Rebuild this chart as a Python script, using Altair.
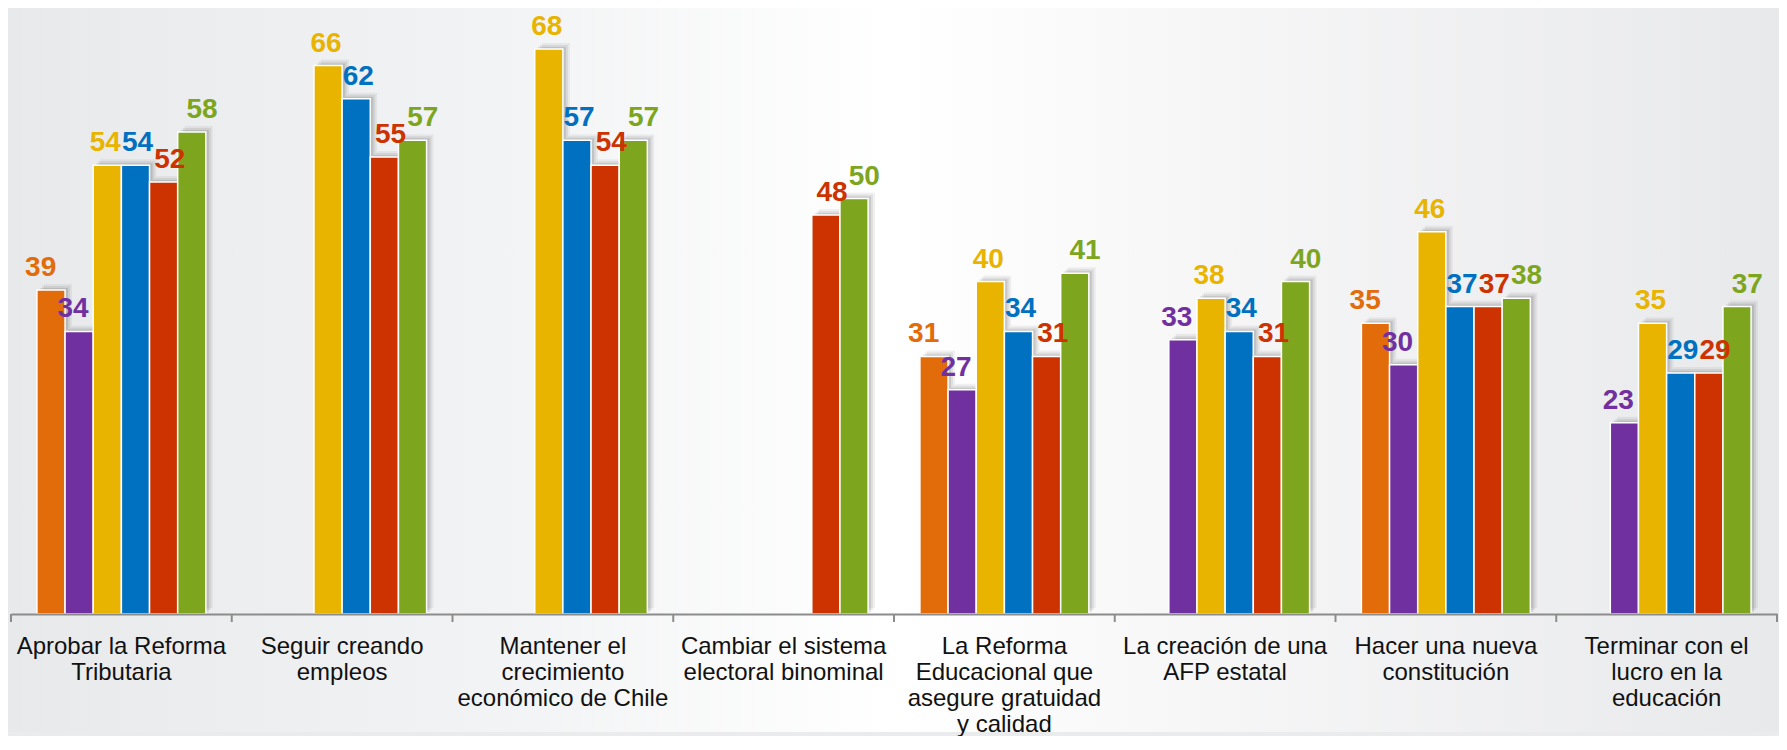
import altair as alt
import pandas as pd

categories = [
    "Aprobar la Reforma|Tributaria",
    "Seguir creando|empleos",
    "Mantener el|crecimiento|económico de Chile",
    "Cambiar el sistema|electoral binominal",
    "La Reforma|Educacional que|asegure gratuidad|y calidad",
    "La creación de una|AFP estatal",
    "Hacer una nueva|constitución",
    "Terminar con el|lucro en la|educación",
]
series = ["Serie 1", "Serie 2", "Serie 3", "Serie 4", "Serie 5", "Serie 6"]
colors = ["#E36C0A", "#7030A0", "#E8B400", "#0070C0", "#CC3300", "#7DA61E"]

s1 = [39, None, None, None, 31, None, 35, None]
s2 = [34, None, None, None, 27, 33, 30, 23]
s3 = [54, 66, 68, None, 40, 38, 46, 35]
s4 = [54, 62, 57, None, 34, 34, 37, 29]
s5 = [52, 55, 54, 48, 31, 31, 37, 29]
s6 = [58, 57, 57, 50, 41, 40, 38, 37]

rows = []
for name, vals in zip(series, [s1, s2, s3, s4, s5, s6]):
    for c, v in zip(categories, vals):
        if v is not None:
            rows.append({"cat": c, "serie": name, "valor": v})
df = pd.DataFrame(rows)
cat_df = pd.DataFrame({"cat": categories, "idx": list(range(len(categories)))})

W, H = 1766, 604
STEP = W / len(categories)
PX_PER_UNIT = 8.31

xscale = alt.Scale(domain=categories, paddingInner=0, paddingOuter=0)
xenc = alt.X("cat:N", scale=xscale, sort=categories,
             axis=alt.Axis(title=None, ticks=False, labelAngle=0,
                           labelExpr="split(datum.label, '|')",
                           labelFont="Liberation Sans", labelFontSize=24,
                           labelColor="#111111", labelLineHeight=26,
                           labelPadding=20, domainColor="#8C8C8C",
                           domainWidth=2, zindex=1, labelLimit=0,
                           labelOverlap=False, labelBound=False,
                           labelFlush=False))
xoff = alt.XOffset("serie:N", scale=alt.Scale(domain=series, paddingInner=0,
                                              paddingOuter=0.92))
yscale = alt.Scale(domain=[0, H / PX_PER_UNIT], nice=False)
yenc = alt.Y("valor:Q", scale=yscale, axis=None)
cenc = alt.Color("serie:N", scale=alt.Scale(domain=series, range=colors),
                 legend=None)

bg = alt.Chart(cat_df).transform_filter("datum.idx == 0").mark_rect(
    fill=alt.Gradient(gradient="linear", x1=0, x2=1, y1=0, y2=0,
                      stops=[alt.GradientStop(offset=0, color="#E8E9EB"),
                             alt.GradientStop(offset=0.3, color="#F3F4F5"),
                             alt.GradientStop(offset=0.5, color="#FFFFFF"),
                             alt.GradientStop(offset=0.68, color="#F6F6F7"),
                             alt.GradientStop(offset=1, color="#E8E9EB")])
).encode(x=alt.value(-3), x2=alt.value(W + 2), y=alt.value(-2),
         y2=alt.value(H + 118))

base = alt.Chart(df)
shadows = []
for off, op in [(7, 0.05), (5, 0.07), (3, 0.10)]:
    sh_off = alt.XOffset("serie:N", scale=alt.Scale(
        domain=series, paddingInner=0, paddingOuter=0.92,
        range=[off, STEP + off]))
    shadows.append(base.mark_bar(color="#000000", opacity=op,
                                 yOffset=-off + 1).encode(
        x=xenc, xOffset=sh_off, y=yenc))

bars = base.mark_bar(stroke="white", strokeWidth=1.5).encode(
    x=xenc, xOffset=xoff, y=yenc, color=cenc)

labels = base.mark_text(font="Liberation Sans", fontSize=28,
                        fontWeight="bold", baseline="alphabetic", dy=-14).encode(
    x=xenc, xOffset=xoff, y=yenc, text=alt.Text("valor:Q"), color=cenc)

ticks = alt.Chart(cat_df).mark_rule(color="#8C8C8C", strokeWidth=2).encode(
    x=alt.X("cat:N", scale=xscale, sort=categories, bandPosition=0),
    y=alt.value(H), y2=alt.value(H + 8))
ticks_end = alt.Chart(cat_df).transform_filter(
    "datum.idx == %d" % (len(categories) - 1)).mark_rule(
    color="#8C8C8C", strokeWidth=2).encode(
    x=alt.X("cat:N", scale=xscale, sort=categories, bandPosition=1),
    y=alt.value(H), y2=alt.value(H + 8))

chart = alt.layer(bg, *shadows, bars, labels, ticks, ticks_end).resolve_scale(
    xOffset="independent"
).properties(
    width=W, height=H, padding=0, background="#EAEBED"
).configure_view(stroke=None)

chart.save("out.html", embed_options={"renderer": "svg", "actions": False})
